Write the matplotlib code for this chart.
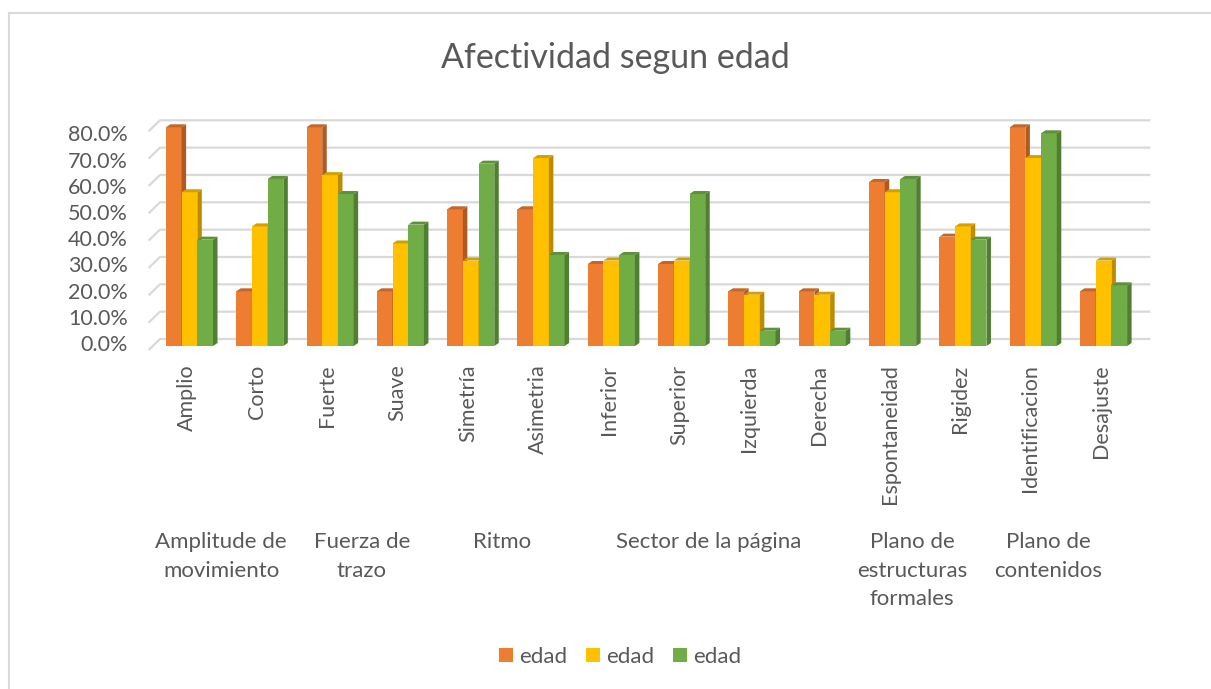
# -*- coding: utf-8 -*-
"""
Afectividad segun edad - columnas agrupadas con efecto 3D (estilo Excel)
"""
import matplotlib
matplotlib.use('Agg')
import matplotlib.pyplot as plt
from matplotlib.patches import Polygon, Rectangle
from matplotlib.lines import Line2D

plt.rcParams['font.family'] = ['Lato', 'DejaVu Sans']

# =========================================================
# 1. Datos
# =========================================================
categories = ['Amplio', 'Corto', 'Fuerte', 'Suave', 'Simetría', 'Asimetria',
              'Inferior', 'Superior', 'Izquierda', 'Derecha',
              'Espontaneidad', 'Rigidez', 'Identificacion', 'Desajuste']
groups = ['Amplitude de\nmovimiento', 'Fuerza de\ntrazo', 'Ritmo',
          'Sector de la página', 'Plano de\nestructuras\nformales',
          'Plano de\ncontenidos']
group_x = [0.45, 2.45, 4.44, 7.38, 10.28, 12.21]
series_names = ['edad', 'edad', 'edad']
serie_1 = [80.0, 20.0, 80.0, 20.0, 50.0, 50.0, 30.0, 30.0, 20.0, 20.0, 60.0, 40.0, 80.0, 20.0]
serie_2 = [56.25, 43.75, 62.5, 37.5, 31.25, 68.75, 31.25, 31.25, 18.75, 18.75, 56.25, 43.75, 68.75, 31.25]
serie_3 = [38.9, 61.1, 55.6, 44.4, 66.7, 33.3, 33.3, 55.6, 5.6, 5.6, 61.1, 38.9, 77.8, 22.2]
y_ticks = [0, 10, 20, 30, 40, 50, 60, 70, 80]

colors = [('#ED7D31', '#AE5A21', '#C4652A'),
          ('#FFC000', '#BC8C00', '#D4A000'),
          ('#70AD47', '#507E32', '#5E9239')]
text_color = '#595959'
grid_color = '#D9D9D9'

# =========================================================
# 2. Figura y ejes
# =========================================================
W, H = 1211, 689
fig = plt.figure(figsize=(W / 100, H / 100), dpi=100)
ax = fig.add_axes([154.3 / W, 343 / H, 984.4 / W, 218.7 / H])
ax.set_xlim(-0.5, 13.5)
ax.set_ylim(0, 80)
for sp in ax.spines.values():
    sp.set_visible(False)
ax.set_xticks([])
# las etiquetas del eje quedan algo desplazadas por la perspectiva
ax.set_yticks([1.1 + v * 0.958 for v in y_ticks])
ax.set_yticklabels([f'{v:.1f}%' for v in y_ticks])
ax.tick_params(axis='y', length=0, pad=19, labelsize=15.5, labelcolor=text_color)

# pared del fondo (líneas de división)
dy_wall = 2.56
for v in y_ticks:
    ax.add_line(Line2D([-0.57, -0.42, 13.65], [v - 1.2, v + dy_wall, v + dy_wall],
                       color=grid_color, lw=1.6, zorder=1, clip_on=False))

# =========================================================
# 3. Barras con caras laterales y superiores
# =========================================================
w = 0.2233
dx, dy = 0.064, 1.1
for s, vals in enumerate([serie_1, serie_2, serie_3]):
    face, side, top = colors[s]
    xs = [i + (s - 1) * w for i in range(len(categories))]
    ax.bar(xs, vals, width=w, color=face, zorder=3 + s, clip_on=False)
    for x, v in zip(xs, vals):
        xl, xr = x - w / 2, x + w / 2
        ax.add_patch(Polygon([(xr, 0), (xr + dx, dy), (xr + dx, v + dy), (xr, v)],
                             closed=True, facecolor=side, edgecolor='none',
                             zorder=3 + s, clip_on=False))
        ax.add_patch(Polygon([(xl, v), (xl + dx, v + dy), (xr + dx, v + dy), (xr, v)],
                             closed=True, facecolor=top, edgecolor='none',
                             zorder=3 + s, clip_on=False))

# =========================================================
# 4. Etiquetas de categoría y grupos
# =========================================================
trans = ax.get_xaxis_transform()
for i, name in enumerate(categories):
    ax.text(i - 0.04, -0.085, name, rotation=90, ha='center', va='top',
            fontsize=15.5, color=text_color, transform=trans)

for gx, g in zip(group_x, groups):
    ax.text(gx, -0.85, g, ha='center', va='top', fontsize=16,
            color=text_color, linespacing=1.55, transform=trans)

# =========================================================
# 5. Título, leyenda y borde
# =========================================================
fig.text(615.5 / W, 1 - 58 / H, 'Afectividad segun edad', ha='center', va='center',
         fontsize=24.5, color=text_color)

handles = [Rectangle((0, 0), 1, 1, facecolor=c[0]) for c in colors]
fig.legend(handles, series_names, loc='center', bbox_to_anchor=(620 / W, 1 - 657 / H),
           ncol=3, frameon=False, fontsize=16, labelcolor=text_color,
           handlelength=0.63, handleheight=0.63, handletextpad=0.27,
           columnspacing=0.86)

fig.add_artist(Line2D([9 / W, 9 / W], [0, 1 - 13 / H], color=grid_color, lw=1.5,
                      transform=fig.transFigure))
fig.add_artist(Line2D([9 / W, 1], [1 - 13 / H, 1 - 13 / H], color=grid_color, lw=1.5,
                      transform=fig.transFigure))

plt.savefig('out.png', dpi=100)
